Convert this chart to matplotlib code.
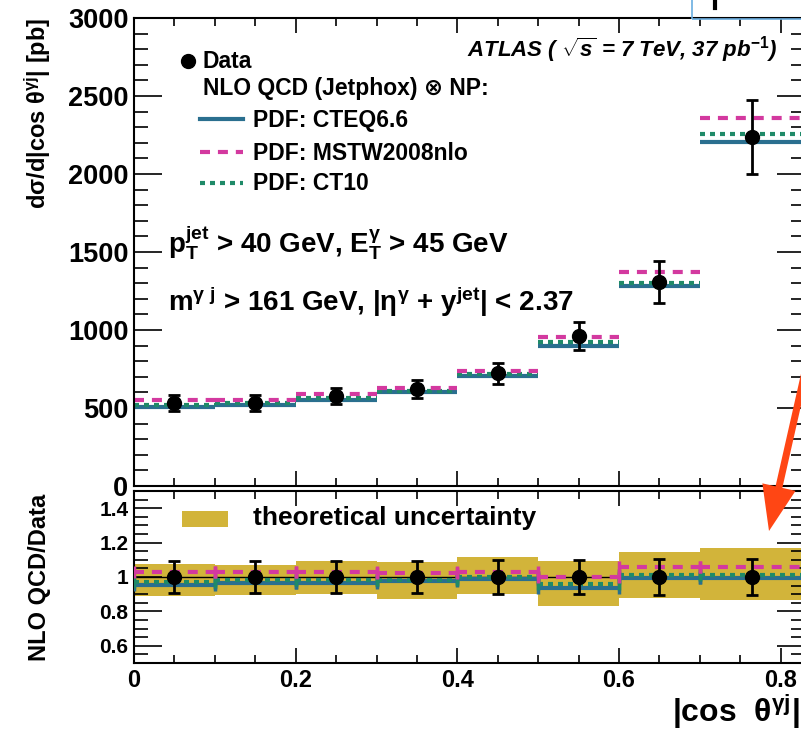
import matplotlib
matplotlib.use("Agg")
import matplotlib.pyplot as plt
from matplotlib.lines import Line2D
from matplotlib.patches import Rectangle, FancyArrow
from matplotlib.transforms import IdentityTransform
from matplotlib.ticker import MultipleLocator, FuncFormatter

plt.rcParams['font.family'] = ['Liberation Sans', 'DejaVu Sans']
plt.rcParams['font.weight'] = 'bold'
plt.rcParams['mathtext.fontset'] = 'custom'
plt.rcParams['mathtext.rm'] = 'Liberation Sans:bold'
plt.rcParams['mathtext.bf'] = 'Liberation Sans:bold'
plt.rcParams['mathtext.it'] = 'Liberation Sans:bold:italic'
plt.rcParams['mathtext.default'] = 'rm'

# bins in |cos theta|
bin_lo = [0.0, 0.1, 0.2, 0.3, 0.4, 0.5, 0.6, 0.7]
bin_hi = [0.1, 0.2, 0.3, 0.4, 0.5, 0.6, 0.7, 0.83]
data_x = [0.05, 0.15, 0.25, 0.35, 0.45, 0.55, 0.65, 0.765]

# cross section [pb]
data_y = [532, 532, 577, 622, 722, 960, 1308, 2237]
data_err = [50, 50, 50, 58, 68, 90, 135, 240]
cteq = [506, 519, 551, 603, 705, 897, 1282, 2205]
mstw = [551, 551, 590, 628, 737, 955, 1372, 2359]
ct10 = [519, 532, 564, 612, 718, 923, 1300, 2256]

# NLO QCD / Data
ratio_err = [0.095, 0.095, 0.095, 0.095, 0.1, 0.1, 0.105, 0.107]
ratio_cteq = [0.953, 0.965, 0.965, 0.976, 0.988, 0.935, 0.994, 0.994]
ratio_mstw = [1.03, 1.03, 1.03, 1.024, 1.03, 1.0, 1.06, 1.06]
ratio_ct10 = [0.97, 0.982, 0.982, 0.982, 1.0, 0.96, 1.012, 1.012]
unc_lo = [0.888, 0.894, 0.90, 0.87, 0.90, 0.83, 0.876, 0.865]
unc_hi = [1.076, 1.07, 1.094, 1.088, 1.118, 1.094, 1.147, 1.17]

c_cteq = '#2a6f8f'
c_mstw = '#d3399f'
c_ct10 = '#1f8a68'
c_band = '#d2b43a'
styles = [(c_cteq, '-', cteq, ratio_cteq),
          (c_ct10, (0, (1.2, 1.2)), ct10, ratio_ct10),
          (c_mstw, (0, (2.4, 1.9)), mstw, ratio_mstw)]

W, H = 801, 730
fig = plt.figure(figsize=(W / 100, H / 100), dpi=100)


def fx(x):
    return x / W


def fy(y):
    return 1 - y / H


ax1 = fig.add_axes([fx(134), fy(486), (805 - 134) / W, (486 - 18) / H])
ax2 = fig.add_axes([fx(134), fy(663), (805 - 134) / W, (663 - 491) / H])

# top panel
for col, ls, vals, _ in styles:
    ax1.hlines(vals, bin_lo, bin_hi, colors=col, linestyles=ls, lw=3)
ax1.errorbar(data_x, data_y, yerr=data_err, fmt='o', color='black', ms=10,
             elinewidth=2, capsize=4, capthick=2, zorder=5)
ax1.set_xlim(0, 0.83)
ax1.set_ylim(0, 3000)

# ratio panel
edges = bin_lo + [bin_hi[-1]]
ax2.fill_between(edges, unc_lo + [unc_lo[-1]], unc_hi + [unc_hi[-1]],
                 step='post', color=c_band, lw=0, zorder=1)
ax2.axhline(1, color='black', lw=1, zorder=2)
for col, ls, _, vals in styles:
    ax2.hlines(vals, bin_lo, bin_hi, colors=col, linestyles=ls, lw=3, zorder=3)
    ax2.plot(bin_lo + bin_hi, vals + vals, ls='none', marker='|', ms=8,
             mew=2.5, color=col, zorder=3)
ax2.errorbar(data_x, [1] * len(data_x), yerr=ratio_err, fmt='o', color='black',
             ms=10, elinewidth=2, capsize=4, capthick=2, zorder=5)
ax2.set_xlim(0, 0.83)
ax2.set_ylim(0.5, 1.5)

fmt = FuncFormatter(lambda v, p: '%g' % round(v, 3))
for ax in (ax1, ax2):
    for s in ax.spines.values():
        s.set_linewidth(1.5)
    ax.xaxis.set_major_locator(MultipleLocator(0.2))
    ax.xaxis.set_minor_locator(MultipleLocator(0.05))
    ax.tick_params(which='both', direction='in', top=True, right=True, width=1.2)
    ax.tick_params(axis='x', which='major', length=11)
    ax.tick_params(axis='x', which='minor', length=6)
    ax.tick_params(axis='y', which='major', length=20)
    ax.tick_params(axis='y', which='minor', length=10)

ax1.yaxis.set_major_locator(MultipleLocator(500))
ax1.yaxis.set_minor_locator(MultipleLocator(100))
ax1.tick_params(labelbottom=False)
ax1.tick_params(axis='y', labelsize=19.5, pad=4)

ax2.yaxis.set_major_locator(MultipleLocator(0.2))
ax2.yaxis.set_minor_locator(MultipleLocator(0.05))
ax2.yaxis.set_major_formatter(fmt)
ax2.xaxis.set_major_formatter(fmt)
ax2.tick_params(axis='y', labelsize=15, pad=4)
ax2.tick_params(axis='x', labelsize=17, pad=4)

# axis titles
fig.text(fx(38), fy(18), r'd$\sigma$/d|cos $\theta^{\gamma j}$| [pb]',
         rotation=90, ha='center', va='top', fontsize=17)
fig.text(fx(40), fy(577), 'NLO QCD/Data', rotation=90, ha='center',
         va='center', fontsize=17)
fig.text(fx(800), fy(722), r'|cos  $\theta^{\gamma j}$|', ha='right',
         va='baseline', fontsize=23)

# annotations
fig.text(fx(467), fy(50), r'ATLAS ( $\sqrt{\mathit{s}}$ = 7 TeV, 37 pb$^{\mathit{-1}}$)',
         ha='left', va='center', fontsize=16, style='italic')
fig.text(fx(168), fy(243),
         r'$p_{T}^{jet}$ > 40 GeV, $E_{T}^{\gamma}$ > 45 GeV',
         ha='left', va='center', fontsize=20)
fig.text(fx(168), fy(302),
         r'$m^{\gamma\ j}$ > 161 GeV, |$\eta^{\gamma}$ + $y^{jet}$| < 2.37',
         ha='left', va='center', fontsize=20)

# legend, top panel
fig.add_artist(Line2D([fx(188)], [fy(61)], marker='o', color='black', ms=10,
                      ls='none'))
fig.text(fx(203), fy(61), 'Data', ha='left', va='center', fontsize=16.5)
fig.text(fx(203), fy(89), 'NLO QCD (Jetphox) \u2297 NP:', ha='left',
         va='center', fontsize=16.5)
leg_rows = [('PDF: CTEQ6.6', c_cteq, '-', 119),
            ('PDF: MSTW2008nlo', c_mstw, (0, (2.4, 1.9)), 152),
            ('PDF: CT10', c_ct10, (0, (1.2, 1.2)), 183)]
for lab, col, ls, yy in leg_rows:
    fig.add_artist(Line2D([fx(200), fx(243)], [fy(yy), fy(yy)], color=col,
                          ls=ls, lw=3))
    fig.text(fx(253), fy(yy + 1), lab, ha='left', va='center', fontsize=16.5)

# legend, ratio panel
fig.add_artist(Rectangle((fx(182), fy(527)), (228 - 182) / W, (527 - 511) / H,
                         color=c_band, lw=0))
fig.text(fx(253), fy(518), 'theoretical uncertainty', ha='left', va='center',
         fontsize=19)

# bits of the surrounding page
ident = IdentityTransform()
fig.add_artist(Rectangle((692, H - 19), 200, 40, fill=False, edgecolor='#6aaee0',
                         lw=1.2, transform=ident, clip_on=False))
fig.add_artist(Line2D([715, 715], [H, H - 8], color='black', lw=3,
                      transform=ident))
fig.add_artist(FancyArrow(810, H - 350, -41, -181, width=7, head_width=34,
                          head_length=45, length_includes_head=True,
                          color='#ff4614', lw=0, transform=ident))

fig.savefig('out.png', dpi=100)
